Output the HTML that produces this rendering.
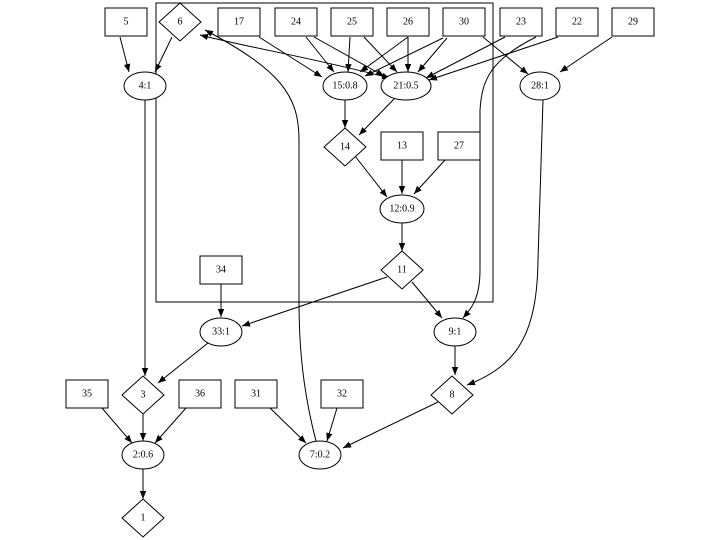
<!DOCTYPE html>
<html><head><meta charset="utf-8"><style>
html,body{margin:0;padding:0;background:#fff;}
svg{display:block;}
text{font-family:"Liberation Serif",serif;font-size:10px;fill:#000;text-anchor:middle;dominant-baseline:central;}
.s{fill:none;stroke:#000;stroke-width:1;}
.n{fill:#fff;stroke:#000;stroke-width:1;}
</style></head><body>
<svg width="720" height="540" viewBox="0 0 720 540" xmlns="http://www.w3.org/2000/svg">
<defs>
<marker id="a" viewBox="0 0 10 10" refX="10" refY="5" markerWidth="8" markerHeight="8" markerUnits="userSpaceOnUse" orient="auto-start-reverse"><path d="M0,1 L10,5 L0,9 z" fill="#000"/></marker>
</defs>
<rect x="156" y="3" width="337" height="299" class="s"/>
<g class="s" marker-end="url(#a)">
<path d="M120,37 L129,72"/>
<path d="M172,37 L155,72"/>
<path d="M145,100 L145,376"/>
<path d="M259,37 L322,77"/>
<path d="M306,37 L334,72"/>
<path d="M314,37 L384,76"/>
<path d="M350,37 L348,72"/>
<path d="M364,37 L397,72"/>
<path d="M408,37 L360,72"/>
<path d="M408,37 L408,72"/>
<path d="M443,38 L365,76"/>
<path d="M447,38 L418,72"/>
<path d="M483,37 L528,74"/>
<path d="M505,37 L426,78"/>
<path d="M558,37 L429,80"/>
<path d="M612,37 L560,72"/>
<path d="M556,37 C510,60 502,80 500,110 L500,270 C500,300 490,310 483,318" transform="translate(-20,0)"/>
<path d="M543,100 L538,260 C537,330 520,365 467,385"/>
<path d="M345,100 L345,128"/>
<path d="M395,98 L359,135"/>
<path d="M355,156 L387,197"/>
<path d="M402,160 L402,194"/>
<path d="M445,160 L414,194"/>
<path d="M402,223 L402,251"/>
<path d="M387,277 L242,326"/>
<path d="M412,282 L442,318"/>
<path d="M221,284 L221,317"/>
<path d="M208,343 L158,383"/>
<path d="M455,346 L455,375"/>
<path d="M143,414 L143,441"/>
<path d="M102,408 L132,443"/>
<path d="M186,408 L155,443"/>
<path d="M438,402 L343,448"/>
<path d="M270,408 L306,443"/>
<path d="M337,408 L327,441"/>
<path d="M143,469 L143,499"/>
<path d="M316,441 C300,380 299,330 299,300 L299,140 C299,95 280,70 205,30"/>
<path d="M390,78 C300,55 260,50 200,35" marker-start="url(#a)"/>
</g>
<g>
<rect x="105" y="8" width="42" height="28" class="n"/><text x="126" y="22">5</text>
<polygon points="180,3 201,22 180,41 159,22" class="n"/><text x="180" y="22">6</text>
<rect x="218" y="8" width="42" height="28" class="n"/><text x="239" y="22">17</text>
<rect x="275" y="8" width="42" height="28" class="n"/><text x="296" y="22">24</text>
<rect x="331" y="8" width="42" height="28" class="n"/><text x="352" y="22">25</text>
<rect x="387" y="8" width="42" height="28" class="n"/><text x="408" y="22">26</text>
<rect x="443" y="8" width="42" height="28" class="n"/><text x="464" y="22">30</text>
<rect x="500" y="8" width="42" height="28" class="n"/><text x="521" y="22">23</text>
<rect x="556" y="8" width="42" height="28" class="n"/><text x="577" y="22">22</text>
<rect x="612" y="8" width="42" height="28" class="n"/><text x="633" y="22">29</text>
<ellipse cx="145" cy="86" rx="21" ry="14" class="n"/><text x="145" y="86">4:1</text>
<ellipse cx="345" cy="86" rx="22" ry="14" class="n"/><text x="345" y="86">15:0.8</text>
<ellipse cx="406" cy="86" rx="25" ry="14" class="n"/><text x="406" y="86">21:0.5</text>
<ellipse cx="540" cy="86" rx="20" ry="14" class="n"/><text x="540" y="86">28:1</text>
<polygon points="345,128 366,147 345,166 324,147" class="n"/><text x="345" y="147">14</text>
<rect x="381" y="132" width="42" height="28" class="n"/><text x="402" y="146">13</text>
<rect x="438" y="132" width="42" height="28" class="n"/><text x="459" y="146">27</text>
<ellipse cx="402" cy="209" rx="22" ry="14" class="n"/><text x="402" y="209">12:0.9</text>
<polygon points="402,251 423,270 402,289 381,270" class="n"/><text x="402" y="270">11</text>
<rect x="200" y="256" width="42" height="28" class="n"/><text x="221" y="270">34</text>
<ellipse cx="221" cy="332" rx="21" ry="14" class="n"/><text x="221" y="332">33:1</text>
<ellipse cx="455" cy="332" rx="21" ry="14" class="n"/><text x="455" y="332">9:1</text>
<polygon points="143,376 164,395 143,414 122,395" class="n"/><text x="143" y="395">3</text>
<rect x="66" y="380" width="42" height="28" class="n"/><text x="87" y="394">35</text>
<rect x="179" y="380" width="42" height="28" class="n"/><text x="200" y="394">36</text>
<rect x="235" y="380" width="42" height="28" class="n"/><text x="256" y="394">31</text>
<rect x="321" y="380" width="42" height="28" class="n"/><text x="342" y="394">32</text>
<polygon points="452,376 473,395 452,414 431,395" class="n"/><text x="452" y="395">8</text>
<ellipse cx="143" cy="455" rx="21" ry="14" class="n"/><text x="143" y="455">2:0.6</text>
<ellipse cx="320" cy="455" rx="21" ry="14" class="n"/><text x="320" y="455">7:0.2</text>
<polygon points="143,499 164,518 143,537 122,518" class="n"/><text x="143" y="518">1</text>
</g>
</svg>
</body></html>
